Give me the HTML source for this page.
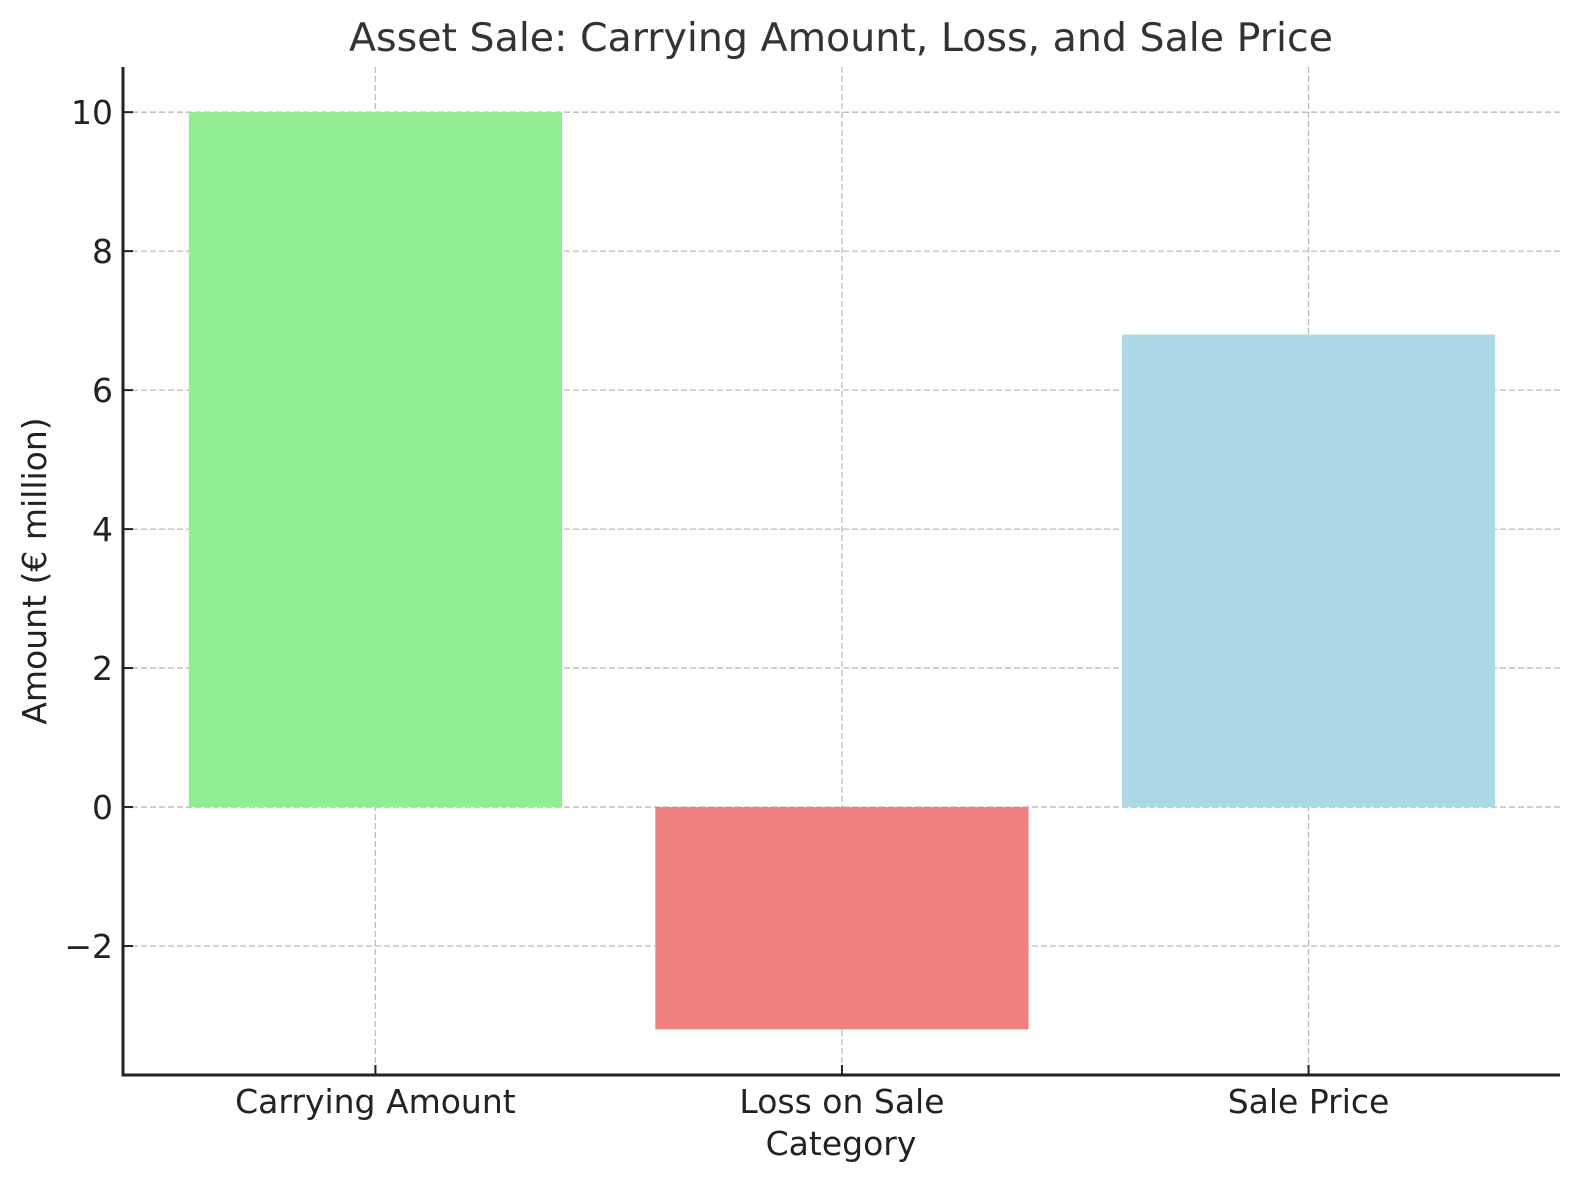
<!DOCTYPE html>
<html><head><meta charset="utf-8"><style>
html,body{margin:0;padding:0;background:#fff;}
svg{display:block;font-family:"DejaVu Sans","Liberation Sans",sans-serif;}
</style></head><body>
<svg id="chart" width="1580" height="1180" viewBox="0 0 1580 1180" xmlns="http://www.w3.org/2000/svg">
<text x="841" y="51" font-size="39.5" fill="#333" text-anchor="middle">Asset Sale: Carrying Amount, Loss, and Sale Price</text>
<g id="grid"></g>
<g id="bars"></g>
<g id="axes"></g>
<text x="841" y="1155" font-size="33" fill="#222" text-anchor="middle">Category</text>
<text transform="translate(46,571) rotate(-90)" font-size="33" fill="#222" text-anchor="middle">Amount (€ million)</text>
</svg>
<script>
const categories = ["Carrying Amount", "Loss on Sale", "Sale Price"];
const values = [10, -3.2, 6.8];
const colors = ["#90ee90", "#f08080", "#add8e6"];
const yTicks = [-2, 0, 2, 4, 6, 8, 10];
const yTickLabels = ["\u22122", "0", "2", "4", "6", "8", "10"];

const L = 123, R = 1560, T = 67, B = 1075;
const yMin = -3.856, yMax = 10.65, xMin = -0.541, xMax = 2.539;
const ys = v => B - (v - yMin) / (yMax - yMin) * (B - T);
const xs = v => L + (v - xMin) / (xMax - xMin) * (R - L);
const NS = "http://www.w3.org/2000/svg";
function mk(tag, attrs, parent) {
  const e = document.createElementNS(NS, tag);
  for (const k in attrs) e.setAttribute(k, attrs[k]);
  parent.appendChild(e);
  return e;
}
const grid = document.getElementById('grid');
const bars = document.getElementById('bars');
const axes = document.getElementById('axes');

values.forEach((v, i) => {
  const x0 = xs(i - 0.4), x1 = xs(i + 0.4);
  const y0 = ys(Math.max(v, 0)), y1 = ys(Math.min(v, 0));
  const r = mk('rect', {x: x0, y: y0, width: x1 - x0, height: y1 - y0, fill: colors[i]}, bars);
  
  
});
yTicks.forEach((t, i) => {
  const y = ys(t);
  const g = mk('line', {x1: L, x2: R, y1: y, y2: y, stroke: '#bbb', 'stroke-width': 1.3, 'stroke-dasharray': '6,3'}, grid);
  
  
  const tk = mk('line', {x1: L, x2: L + 10, y1: y, y2: y, stroke: '#222', 'stroke-width': 2}, axes);
  
  
  const lb = mk('text', {x: L - 10, y: y + 12, 'font-size': 33, fill: '#222', 'text-anchor': 'end'}, axes);
  lb.textContent = yTickLabels[i];
  
  
});
categories.forEach((c, i) => {
  const x = xs(i);
  const g = mk('line', {x1: x, x2: x, y1: T, y2: B, stroke: '#bbb', 'stroke-width': 1.3, 'stroke-dasharray': '6,3'}, grid);
  
  
  const tk = mk('line', {x1: x, x2: x, y1: B - 10, y2: B, stroke: '#222', 'stroke-width': 2}, axes);
  
  
  const lb = mk('text', {x: x, y: B + 38, 'font-size': 33, fill: '#222', 'text-anchor': 'middle'}, axes);
  lb.textContent = c;
  
  
});
const ls = mk('line', {x1: L, x2: L, y1: T, y2: B + 1.5, stroke: '#222', 'stroke-width': 3}, axes);


const bs = mk('line', {x1: L - 1.5, x2: R, y1: B, y2: B, stroke: '#222', 'stroke-width': 3}, axes);


</script>
</body></html>
